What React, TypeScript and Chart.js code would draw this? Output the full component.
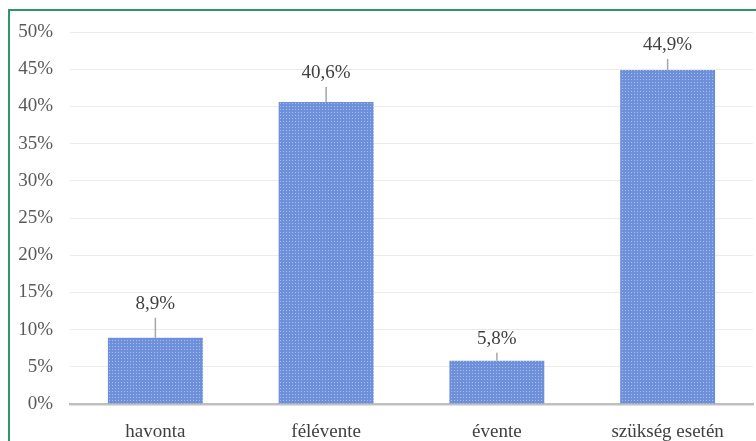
import React, { useEffect, useRef } from "react";
import { Chart, registerables } from "chart.js";

Chart.register(...registerables);

const categories = ["havonta", "félévente", "évente", "szükség esetén"];
const values = [0.089, 0.406, 0.058, 0.449];
const valueLabels = ["8,9%", "40,6%", "5,8%", "44,9%"];

const FONT = "'Liberation Serif', 'Times New Roman', serif";

function makePattern(): CanvasPattern | string {
  const c = document.createElement("canvas");
  c.width = 3;
  c.height = 3;
  const g = c.getContext("2d");
  if (!g) return "#7395dd";
  g.fillStyle = "#6e8fda";
  g.fillRect(0, 0, 3, 3);
  g.fillStyle = "#a9bdee";
  g.fillRect(1, 1, 1, 1);
  const p = g.createPattern(c, "repeat");
  return p || "#7395dd";
}

const labelPlugin = {
  id: "leaderLabels",
  afterDatasetsDraw(chart: any, _args: any, opts: any) {
    const ctx = chart.ctx;
    const meta = chart.getDatasetMeta(0);
    const offsets: number[] = (opts && opts.offsets) || [];
    ctx.save();
    ctx.font = `19px ${FONT}`;
    ctx.fillStyle = "#404040";
    ctx.textAlign = "center";
    ctx.textBaseline = "middle";
    meta.data.forEach((bar: any, i: number) => {
      const x = bar.x;
      const top = bar.y;
      const ly = top - (offsets[i] ?? 28);
      ctx.strokeStyle = "#a6a6a6";
      ctx.lineWidth = 1.5;
      ctx.beginPath();
      ctx.moveTo(x, top);
      ctx.lineTo(x, ly + 14);
      ctx.stroke();
      ctx.fillText(valueLabels[i], x, ly);
    });
    ctx.restore();
  },
};

export default function App() {
  const ref = useRef<HTMLCanvasElement>(null);
  useEffect(() => {
    if (!ref.current) return;
    const chart = new Chart(ref.current, {
      type: "bar",
      data: {
        labels: categories,
        datasets: [
          {
            data: values,
            backgroundColor: makePattern() as any,
            borderWidth: 0,
            categoryPercentage: 1,
            barPercentage: 0.556,
          },
        ],
      },
      options: {
        animation: false,
        responsive: false,
        maintainAspectRatio: false,
        layout: { padding: { top: 32, right: 3, left: 0, bottom: 0 } },
        plugins: {
          legend: { display: false },
          tooltip: { enabled: false },
          leaderLabels: { offsets: [34, 29, 22, 25] },
        } as any,
        scales: {
          x: {
            grid: { display: false },
            border: { display: true, color: "#bfbfbf", width: 2.5 },
            ticks: {
              color: "#404040",
              font: { family: FONT, size: 19 },
              padding: 9,
            },
            afterFit(scale: any) {
              scale.height = 37;
            },
          },
          y: {
            min: 0,
            max: 0.5,
            ticks: {
              stepSize: 0.05,
              color: "#595959",
              font: { family: FONT, size: 19 },
              padding: 17,
              callback: (v: any) => `${Math.round(Number(v) * 100)}%`,
            },
            grid: { color: "#ebebeb", lineWidth: 1, drawTicks: false },
            border: { display: false },
            afterFit(scale: any) {
              scale.width = 70;
            },
          },
        },
      },
      plugins: [labelPlugin],
    });
    return () => chart.destroy();
  }, []);
  return (
    <div style={{ position: "fixed", left: 0, top: 0, width: 756, height: 441, background: "#fff", overflow: "hidden" }}>
      <canvas ref={ref} width={756} height={441} style={{ position: "absolute", left: 0, top: 0 }} />
      <div
        style={{
          position: "absolute",
          left: 8,
          top: 9,
          width: 780,
          height: 460,
          border: "2px solid #2f9466",
          boxSizing: "border-box",
          pointerEvents: "none",
        }}
      />
    </div>
  );
}
